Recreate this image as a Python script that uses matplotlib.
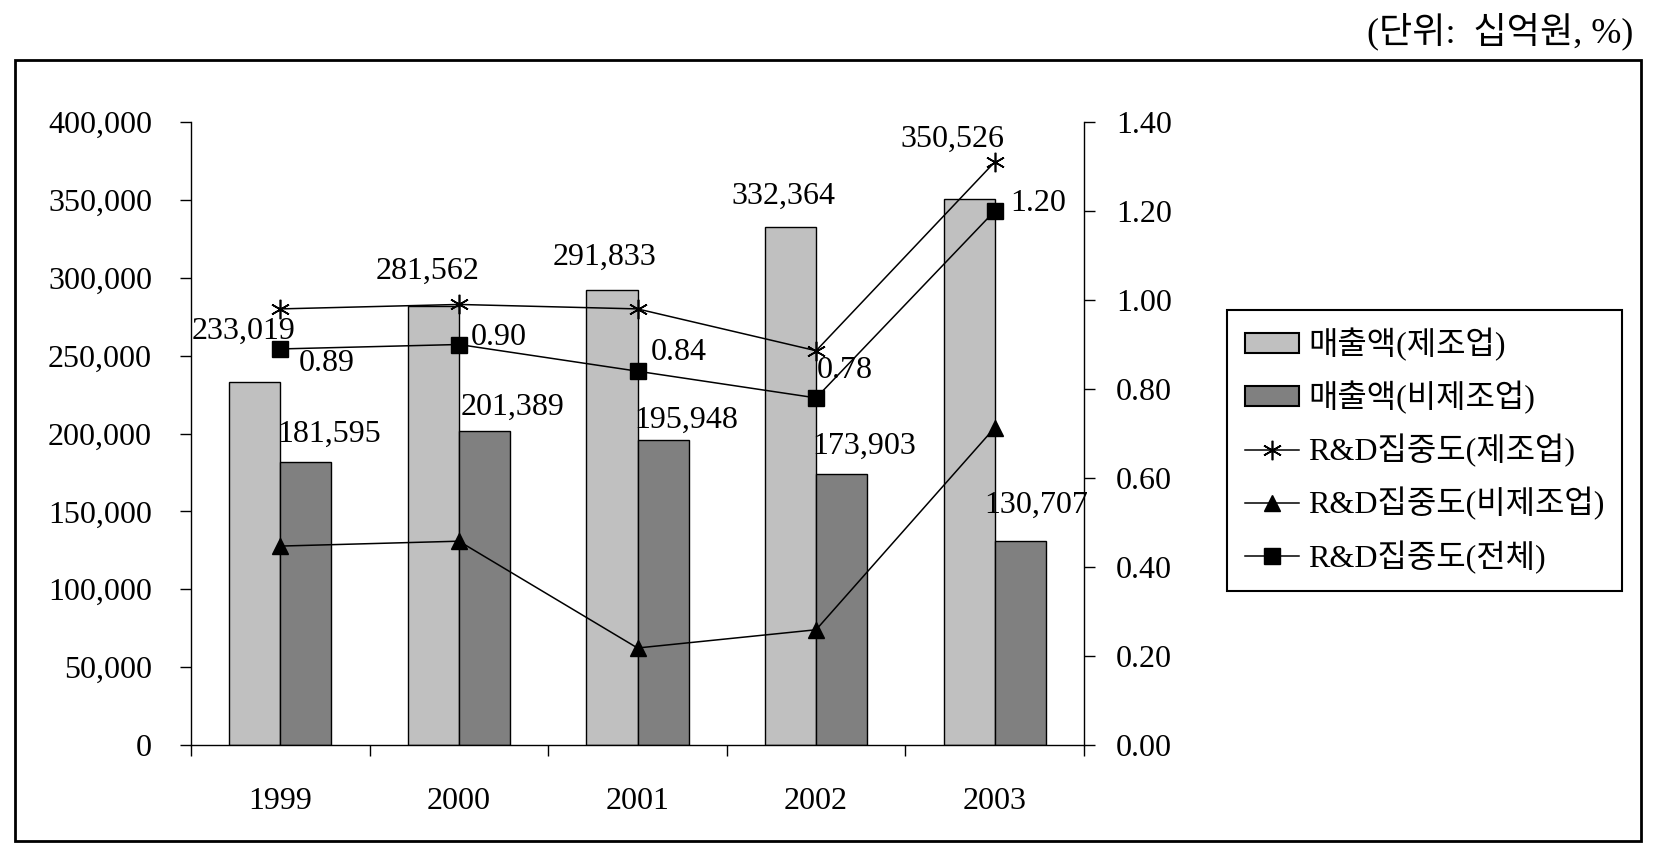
import numpy as np
import matplotlib
matplotlib.use("Agg")
import matplotlib.pyplot as plt
from matplotlib.patches import Rectangle, Patch
from matplotlib.lines import Line2D
from matplotlib.ticker import FuncFormatter

plt.rcParams['font.family'] = ['Liberation Serif', 'Noto Sans CJK KR', 'DejaVu Sans']

years = ["1999", "2000", "2001", "2002", "2003"]
sales_mfg = [233019, 281562, 291833, 332364, 350526]
sales_non = [181595, 201389, 195948, 173903, 130707]
rd_mfg = [0.98, 0.99, 0.98, 0.886, 1.31]
rd_non = [0.447, 0.458, 0.218, 0.259, 0.713]
rd_all = [0.89, 0.90, 0.84, 0.78, 1.20]

# label offsets in pixels (dx, dy)
off_mfg = [(-11, 51), (-6, 35), (-7, 33), (-7, 31), (-17, 60)]
off_non = [(23, 28), (28, 24), (23, 19), (23, 28), (16, 36)]
off_all = [(46, -15), (40, 7), (41, 19), (29, 27), (43, 8)]

W, H = 1663, 851
fig = plt.figure(figsize=(W / 100, H / 100), dpi=100)

# outer frame
fig.patches.append(Rectangle((15 / W, 1 - 841 / H), (1641 - 15) / W, (841 - 60) / H,
                             transform=fig.transFigure, fill=False, edgecolor='black', lw=2))
fig.text(1633 / W, 1 - 31 / H, "(단위:  십억원, %)", ha='right', va='center', fontsize=26)

ax = fig.add_axes([191 / W, 1 - 745 / H, (1084 - 191) / W, (745 - 122) / H])
ax2 = ax.twinx()

x = np.arange(len(years))
bw = 0.286
ax.bar(x - bw / 2, sales_mfg, bw, color='#C0C0C0', edgecolor='black', lw=1.0, zorder=2)
ax.bar(x + bw / 2, sales_non, bw, color='#808080', edgecolor='black', lw=1.0, zorder=2)

fs = 23
for i in range(len(years)):
    ax.annotate(f"{sales_mfg[i]:,}", (x[i] - bw / 2, sales_mfg[i]), xytext=off_mfg[i],
                textcoords='offset pixels', ha='center', va='center', fontsize=fs)
    ax.annotate(f"{sales_non[i]:,}", (x[i] + bw / 2, sales_non[i]), xytext=off_non[i],
                textcoords='offset pixels', ha='center', va='center', fontsize=fs)

ax.set_xlim(-0.5, 4.5)
ax.set_ylim(0, 400000)
ax.set_yticks(np.arange(0, 400001, 50000))
ax.yaxis.set_major_formatter(FuncFormatter(lambda v, p: f"{int(v):,}"))
ax.set_xticks(x)
ax.set_xticklabels(years)
ax.set_xticks(np.arange(-0.5, 4.6, 1), minor=True)
ax.tick_params(axis='x', which='major', length=0, pad=30, labelsize=fs)
ax.tick_params(axis='x', which='minor', length=8, width=1, direction='out')
ax.tick_params(axis='y', length=8, width=1, direction='out', pad=20, labelsize=fs)

ms = 11
ax2.plot(x, rd_mfg, color='black', lw=1.1, marker=(6, 2, 0), ms=14, mew=1.2)
ax2.plot(x, rd_non, color='black', lw=1.1, marker='^', ms=ms)
ax2.plot(x, rd_all, color='black', lw=1.1, marker='s', ms=ms)
for i in range(len(years)):
    ax2.annotate(f"{rd_all[i]:.2f}", (x[i], rd_all[i]), xytext=off_all[i],
                 textcoords='offset pixels', ha='center', va='center', fontsize=fs)
ax2.set_ylim(0, 1.4)
ax2.set_yticks(np.arange(0, 1.41, 0.2))
ax2.yaxis.set_major_formatter(FuncFormatter(lambda v, p: f"{v:.2f}"))
ax2.tick_params(axis='y', length=8, width=1, direction='out', pad=15, labelsize=fs)

for a in (ax, ax2):
    a.spines['top'].set_visible(False)
    for s in ('left', 'right', 'bottom'):
        a.spines[s].set_linewidth(1.0)
ax.spines['right'].set_visible(False)
ax2.spines['left'].set_visible(False)
ax2.spines['bottom'].set_visible(False)

handles = [
    Patch(facecolor='#C0C0C0', edgecolor='black', lw=1.5),
    Patch(facecolor='#808080', edgecolor='black', lw=1.5),
    Line2D([], [], color='black', lw=1.1, marker=(6, 2, 0), ms=14, mew=1.2),
    Line2D([], [], color='black', lw=1.1, marker='^', ms=ms),
    Line2D([], [], color='black', lw=1.1, marker='s', ms=ms),
]
labels = ["매출액(제조업)", "매출액(비제조업)", "R&D집중도(제조업)", "R&D집중도(비제조업)", "R&D집중도(전체)"]
leg = fig.legend(handles, labels, loc='upper left', bbox_to_anchor=(1227 / W, 1 - 310 / H),
                 bbox_transform=fig.transFigure, borderaxespad=0, fontsize=23,
                 frameon=True, fancybox=False, edgecolor='black', framealpha=1,
                 handlelength=1.7, handleheight=0.6, handletextpad=0.3,
                 labelspacing=0.62, borderpad=0.55)
leg.get_frame().set_linewidth(1.5)

fig.savefig("out.png", dpi=100)
